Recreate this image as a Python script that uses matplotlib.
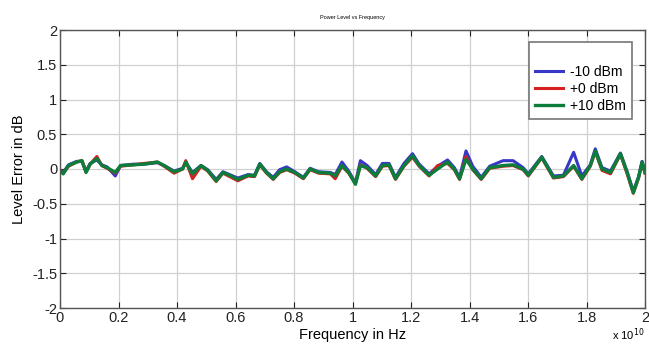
import numpy as np
import matplotlib
matplotlib.use("Agg")
import matplotlib.pyplot as plt
from matplotlib.ticker import FormatStrFormatter

plt.rcParams['font.family'] = ['Liberation Sans', 'DejaVu Sans']

# frequency in units of 1e10 Hz
freq = [0.000, 0.011, 0.029, 0.057, 0.075, 0.089, 0.103, 0.126, 0.143, 0.161,
        0.189, 0.207, 0.252, 0.287, 0.333, 0.356, 0.390, 0.419, 0.430, 0.453,
        0.482, 0.505, 0.534, 0.557, 0.585, 0.608, 0.643, 0.665, 0.683, 0.706,
        0.729, 0.751, 0.775, 0.803, 0.832, 0.855, 0.884, 0.924, 0.941, 0.964,
        0.987, 1.010, 1.027, 1.050, 1.079, 1.102, 1.125, 1.147, 1.176, 1.205,
        1.228, 1.262, 1.291, 1.325, 1.348, 1.366, 1.388, 1.411, 1.440, 1.469,
        1.515, 1.549, 1.583, 1.601, 1.647, 1.687, 1.721, 1.756, 1.784, 1.813,
        1.830, 1.853, 1.882, 1.916, 1.939, 1.960, 1.978, 1.990, 2.000]

level_p10 = [-0.02, -0.07, 0.05, 0.10, 0.12, -0.05, 0.07, 0.15, 0.05, 0.02,
             -0.05, 0.05, 0.06, 0.07, 0.10, 0.05, -0.04, 0.00, 0.10, -0.07,
             0.05, -0.02, -0.17, -0.05, -0.10, -0.15, -0.09, -0.10, 0.07, -0.05,
             -0.14, -0.04, 0.00, -0.05, -0.13, 0.00, -0.05, -0.06, -0.10, 0.05,
             -0.05, -0.22, 0.05, 0.02, -0.10, 0.05, 0.06, -0.14, 0.05, 0.19,
             0.05, -0.09, 0.00, 0.10, 0.00, -0.14, 0.14, 0.00, -0.14, 0.02,
             0.05, 0.06, 0.00, -0.09, 0.17, -0.12, -0.10, 0.05, -0.14, 0.05,
             0.26, 0.00, -0.05, 0.22, -0.05, -0.34, -0.12, 0.10, -0.05]

level_m10 = [-0.01, -0.05, 0.06, 0.11, 0.11, -0.03, 0.08, 0.13, 0.06, 0.03,
             -0.10, 0.05, 0.07, 0.07, 0.09, 0.05, -0.03, 0.01, 0.09, -0.05,
             0.05, -0.01, -0.15, -0.04, -0.09, -0.13, -0.08, -0.09, 0.08, -0.04,
             -0.12, -0.01, 0.03, -0.04, -0.12, 0.01, -0.04, -0.05, -0.08, 0.10,
             -0.03, -0.20, 0.12, 0.05, -0.08, 0.08, 0.08, -0.12, 0.08, 0.22,
             0.07, -0.07, 0.04, 0.13, 0.02, -0.12, 0.26, 0.04, -0.12, 0.04,
             0.12, 0.12, 0.02, -0.07, 0.18, -0.10, -0.09, 0.24, -0.10, 0.06,
             0.29, 0.02, -0.03, 0.23, -0.04, -0.32, -0.11, 0.11, -0.04]

level_0 = [-0.02, -0.06, 0.04, 0.10, 0.12, -0.04, 0.07, 0.18, 0.05, 0.01,
           -0.06, 0.04, 0.06, 0.08, 0.10, 0.04, -0.06, 0.00, 0.12, -0.14,
           0.04, -0.03, -0.18, -0.06, -0.12, -0.17, -0.10, -0.11, 0.06, -0.06,
           -0.15, -0.05, -0.01, -0.06, -0.14, -0.01, -0.06, -0.07, -0.14, 0.04,
           -0.06, -0.21, 0.06, 0.01, -0.11, 0.04, 0.05, -0.15, 0.04, 0.17,
           0.04, -0.10, 0.05, 0.08, -0.01, -0.15, 0.18, -0.01, -0.15, 0.01,
           0.04, 0.05, -0.01, -0.10, 0.16, -0.13, -0.11, 0.04, -0.15, 0.04,
           0.25, -0.02, -0.07, 0.21, -0.07, -0.35, -0.13, 0.09, -0.06]

fig = plt.figure(figsize=(6.49, 3.45), dpi=100)
ax = fig.add_axes([60/649, 1-308/345, 585/649, 278/345])

ax.plot(freq, level_m10, color='#3838c8', lw=2.2, label='-10 dBm')
ax.plot(freq, level_0, color='#d82020', lw=2.2, label='+0 dBm')
ax.plot(freq, level_p10, color='#0c7d3a', lw=2.4, label='+10 dBm')

ax.set_xlim(0, 2)
ax.set_ylim(-2, 2)
ax.set_xticks(np.arange(0, 2.01, 0.2))
ax.set_yticks(np.arange(-2, 2.01, 0.5))
ax.xaxis.set_major_formatter(FormatStrFormatter('%g'))
ax.yaxis.set_major_formatter(FormatStrFormatter('%g'))
ax.tick_params(direction='in', length=4, labelsize=10.5, colors='#222222',
               top=True, right=True, pad=2)
ax.grid(True, color='#d0d0d0', lw=0.9)
for s in ax.spines.values():
    s.set_color('#555555')
    s.set_linewidth(1.0)

ax.set_xlabel('Frequency in Hz', fontsize=10.5, labelpad=2)
ax.set_ylabel('Level Error in dB', fontsize=10.5, labelpad=4)
ax.set_title('Power Level vs Frequency', fontsize=4, pad=8)
fig.text(644/649, 1-343/345, r'x 10$^{10}$', fontsize=8, ha='right', va='bottom')

leg = ax.legend(loc='upper right', bbox_to_anchor=(0.978, 0.957),
                borderaxespad=0, fontsize=10, title=' ', title_fontsize=11,
                handlelength=2.0, handletextpad=0.5, labelspacing=0.2,
                fancybox=False, framealpha=1, edgecolor='#777777',
                borderpad=0.45)
leg.get_frame().set_linewidth(1.2)

fig.savefig('out.png', dpi=100)
